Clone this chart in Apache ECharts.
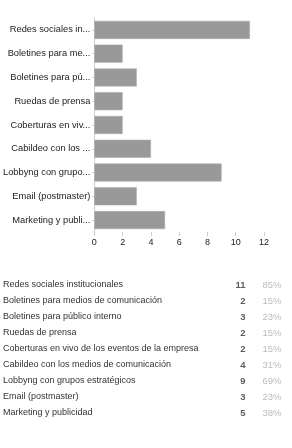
<!DOCTYPE html>
<html>
<head>
    <meta charset="UTF-8"/>
    <title>Chart</title>
    <style>
        * { padding: 0; margin: 0; }
        body { background: #fff; width: 292px; height: 448px; overflow: hidden; }
        #main { width: 292px; height: 448px; }
    </style>
    <script src="https://cdn.jsdelivr.net/npm/echarts@6/dist/echarts.min.js"></script>
</head>
<body>
<div id="main"></div>
<script>
    // datos
    const categories = [
        'Redes sociales institucionales',
        'Boletines para medios de comunicación',
        'Boletines para público interno',
        'Ruedas de prensa',
        'Coberturas en vivo de los eventos de la empresa',
        'Cabildeo con los medios de comunicación',
        'Lobbyng con grupos estratégicos',
        'Email (postmaster)',
        'Marketing y publicidad'
    ]
    const counts = [11, 2, 3, 2, 2, 4, 9, 3, 5]
    const percents = [85, 15, 23, 15, 15, 31, 69, 23, 38]
    const xTicks = [0, 2, 4, 6, 8, 10, 12]

    const chart = echarts.init(document.getElementById('main'))
    const font = 'Liberation Sans, Arial, sans-serif'

    // el grafico corta los nombres largos a 17 letras
    const shortName = s => s.length > 18 ? s.slice(0, 17) + '...' : s

    chart.setOption({
        animation: false,
        textStyle: { fontFamily: font },
        grid: [
            { left: 93, top: 18, width: 171, height: 214 },
            { left: 3, top: 277, width: 286, height: 144 }
        ],
        xAxis: [
            {
                gridIndex: 0,
                type: 'value',
                min: xTicks[0],
                max: xTicks[xTicks.length - 1],
                interval: 2,
                splitLine: { show: false },
                axisLine: { show: false },
                axisTick: { show: true, length: 4, lineStyle: { color: '#ccc' } },
                axisLabel: { color: '#222', fontSize: 9, margin: 6, fontFamily: font }
            },
            {
                // tabla: columnas de conteo y porcentaje
                gridIndex: 1,
                type: 'value',
                min: 0,
                max: 286,
                show: false
            }
        ],
        yAxis: [
            {
                gridIndex: 0,
                type: 'category',
                inverse: true,
                data: categories,
                axisLine: { show: true, lineStyle: { color: '#ccc' } },
                axisTick: { show: true, alignWithLabel: true, length: 2, lineStyle: { color: '#ccc' } },
                axisLabel: {
                    color: '#222',
                    fontSize: 9.3,
                    margin: 4,
                    fontFamily: font,
                    formatter: shortName
                }
            },
            {
                gridIndex: 1,
                type: 'category',
                inverse: true,
                data: categories,
                axisLine: { show: false },
                axisTick: { show: false },
                axisLabel: {
                    align: 'left',
                    margin: 0,
                    color: '#333',
                    fontSize: 9,
                    fontFamily: font
                }
            }
        ],
        series: [
            {
                type: 'bar',
                xAxisIndex: 0,
                yAxisIndex: 0,
                data: counts,
                barWidth: 18,
                itemStyle: { color: '#999', borderColor: '#aaa', borderWidth: 0.5 }
            },
            {
                type: 'scatter',
                xAxisIndex: 1,
                yAxisIndex: 1,
                symbolSize: 1,
                itemStyle: { color: 'rgba(0,0,0,0)' },
                data: counts.map((c, i) => [243, i]),
                label: {
                    show: true,
                    position: 'left',
                    distance: 0,
                    formatter: p => counts[p.dataIndex],
                    color: '#333',
                    fontWeight: 'bold',
                    fontSize: 9.5,
                    fontFamily: font
                }
            },
            {
                type: 'scatter',
                xAxisIndex: 1,
                yAxisIndex: 1,
                symbolSize: 1,
                itemStyle: { color: 'rgba(0,0,0,0)' },
                data: percents.map((v, i) => [279, i]),
                label: {
                    show: true,
                    position: 'left',
                    distance: 0,
                    formatter: p => percents[p.dataIndex] + '%',
                    color: '#aaa',
                    fontSize: 9.5,
                    fontFamily: font
                }
            }
        ]
    })
</script>
</body>
</html>
